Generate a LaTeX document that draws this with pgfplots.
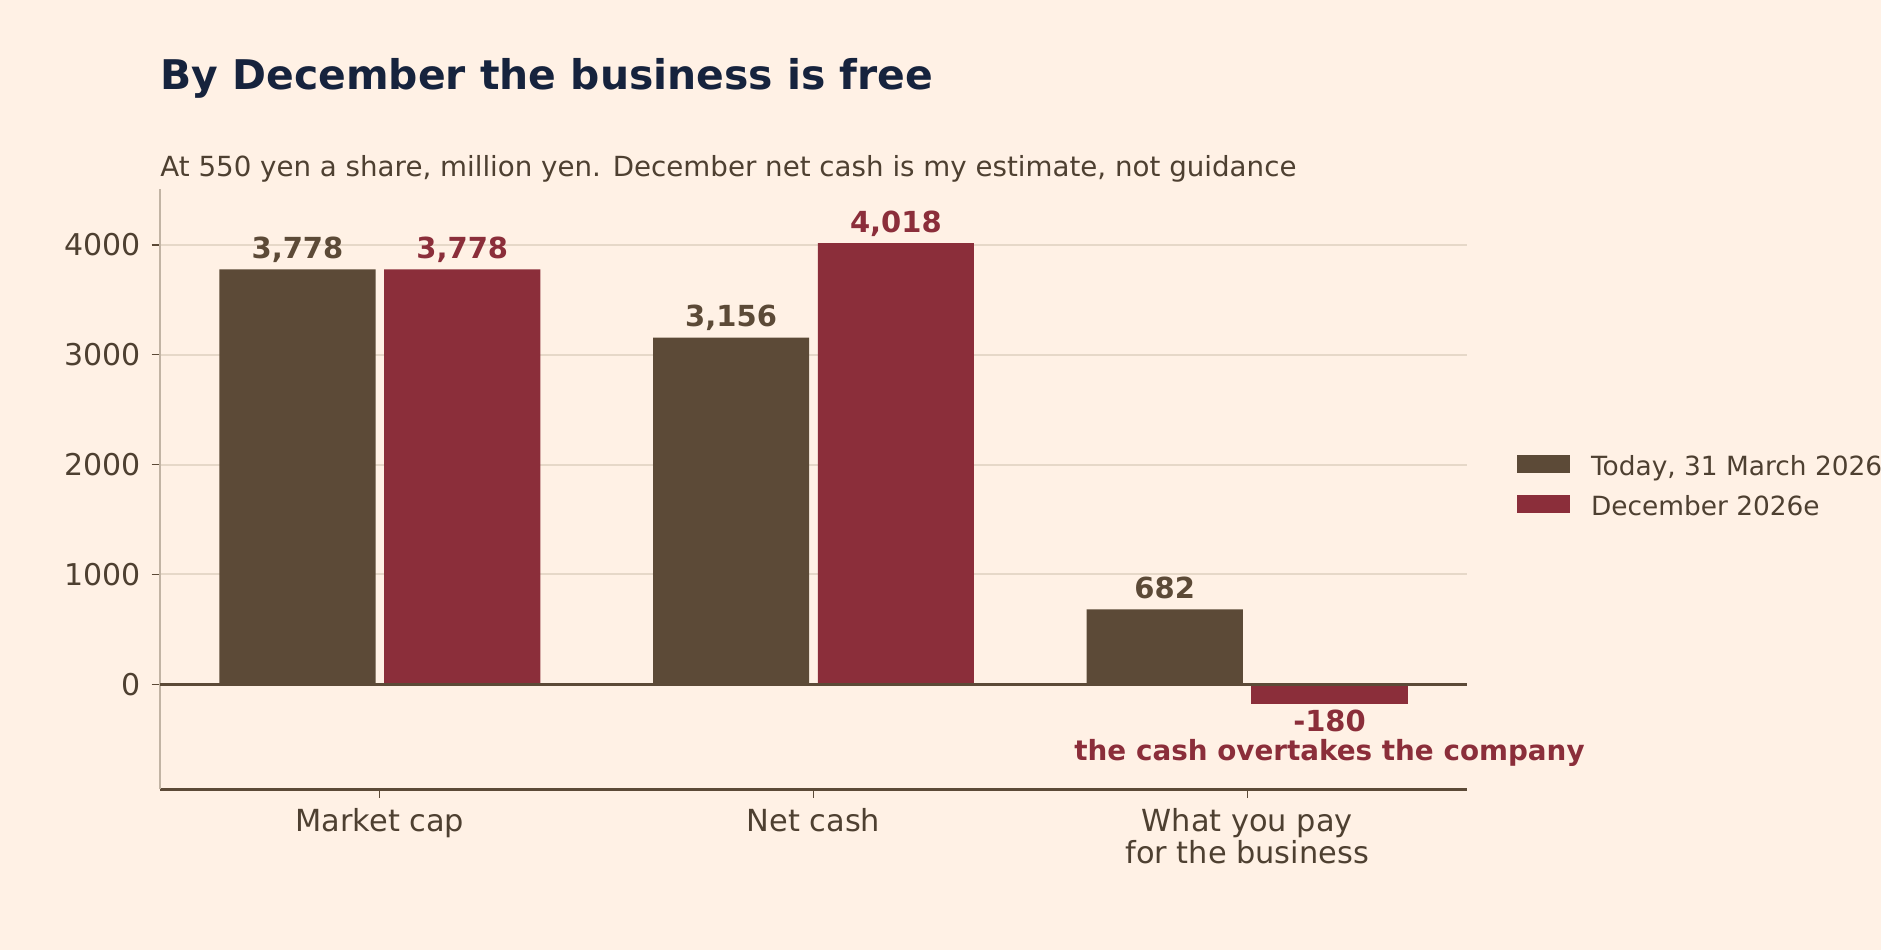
\documentclass[border=0pt]{standalone}
\usepackage{fontspec}
\setmainfont{DejaVu Sans}
\usepackage{pgfplots}
\pgfplotsset{compat=1.18}
\definecolor{bg}{HTML}{FFF1E5}
\definecolor{brn}{HTML}{5C4A37}
\definecolor{rd}{HTML}{8B2E3A}
\definecolor{navy}{HTML}{16233D}
\definecolor{txt}{HTML}{4E4031}
\definecolor{gridc}{HTML}{E6D8C8}
\definecolor{spine}{HTML}{C2B4A4}
\newcommand{\lstrut}{\rule[-3pt]{0pt}{13pt}}
\begin{document}
\begin{tikzpicture}
\path[use as bounding box, fill=bg] (0,0) rectangle (940.5pt,475pt);
\node[anchor=base west, inner sep=0pt, text=navy, font=\fontsize{20.45}{24}\selectfont\bfseries] at (80pt,430pt) {By December the business is free};
\node[anchor=base west, inner sep=0pt, text=txt, font=\fontsize{13.85}{16}\selectfont] at (80pt,386.7pt) {At 550 yen a share, million yen. December net cash is my estimate, not guidance};
\begin{axis}[
  at={(80pt,80.35pt)}, anchor=south west,
  scale only axis, width=653.5pt, height=300pt,
  xmin=-0.507, xmax=2.507, ymin=-956, ymax=4507,
  clip=false,
  axis x line*=bottom, axis y line*=left,
  x axis line style={brn, line width=1.2pt, -},
  y axis line style={spine, line width=0.7pt, -},
  xtick={0,1,2},
  xticklabels={Market cap, Net cash, What you pay\\for the business},
  ytick={0,1000,2000,3000,4000},
  ymajorgrids, grid style={gridc, line width=1pt},
  tick align=outside, major tick length=4.2pt,
  tick style={brn, line width=0.6pt},
  /pgf/number format/assume math mode=true,
  yticklabel style={text=txt, font=\fontsize{15}{18}\selectfont, anchor=east, inner sep=0pt, xshift=-5.3pt,
    /pgf/number format/1000 sep={}},
  xticklabel style={text=txt, font=\fontsize{15.2}{16.3}\selectfont, align=center, anchor=north, inner sep=0pt, yshift=-5pt},
  ybar, bar width=0.36,
  nodes near coords={\pgfmathprintnumber[fixed,precision=0,1000 sep={,},assume math mode=true]{\pgfplotspointmeta}},
  every node near coord/.append style={font=\fontsize{14.5}{17}\selectfont\bfseries, inner xsep=0pt, inner ysep=5.3pt, text depth=0pt},
  legend style={at={(1.03826,0.5705)}, anchor=north west, draw=none, fill=none, inner sep=0pt, outer sep=0pt,
    font=\fontsize{13.2}{16}\selectfont, text=txt, row sep=4.1pt,
    nodes={inner sep=0pt}},
  legend cell align=left,
  legend image code/.code={\fill[#1, draw=none] (0pt,-3pt) rectangle (26.5pt,6pt); \path (0pt,-3pt) (37pt,10pt);},
]
\addplot[fill=brn, draw=none, bar shift=-0.19, every node near coord/.append style={text=brn}]
  coordinates {(0,3778) (1,3156) (2,682)};
\addlegendentry{\lstrut Today, 31 March 2026}
\addplot[fill=rd, draw=none, bar shift=0.19, every node near coord/.append style={text=rd}]
  coordinates {(0,3778) (1,4018)};
\addlegendentry{\lstrut December 2026e}
\addplot[fill=rd, draw=none, bar shift=0.19, forget plot, every node near coord/.append style={text=rd, inner ysep=2.8pt}]
  coordinates {(2,-180)};
\draw[brn, line width=1.2pt] (axis cs:-0.507,0) -- (axis cs:2.507,0);
\node[anchor=base, inner sep=0pt, text=rd, font=\fontsize{13.9}{16}\selectfont\bfseries] at (axis cs:2.19,-696) {the cash overtakes the company};
\end{axis}
\end{tikzpicture}
\end{document}
